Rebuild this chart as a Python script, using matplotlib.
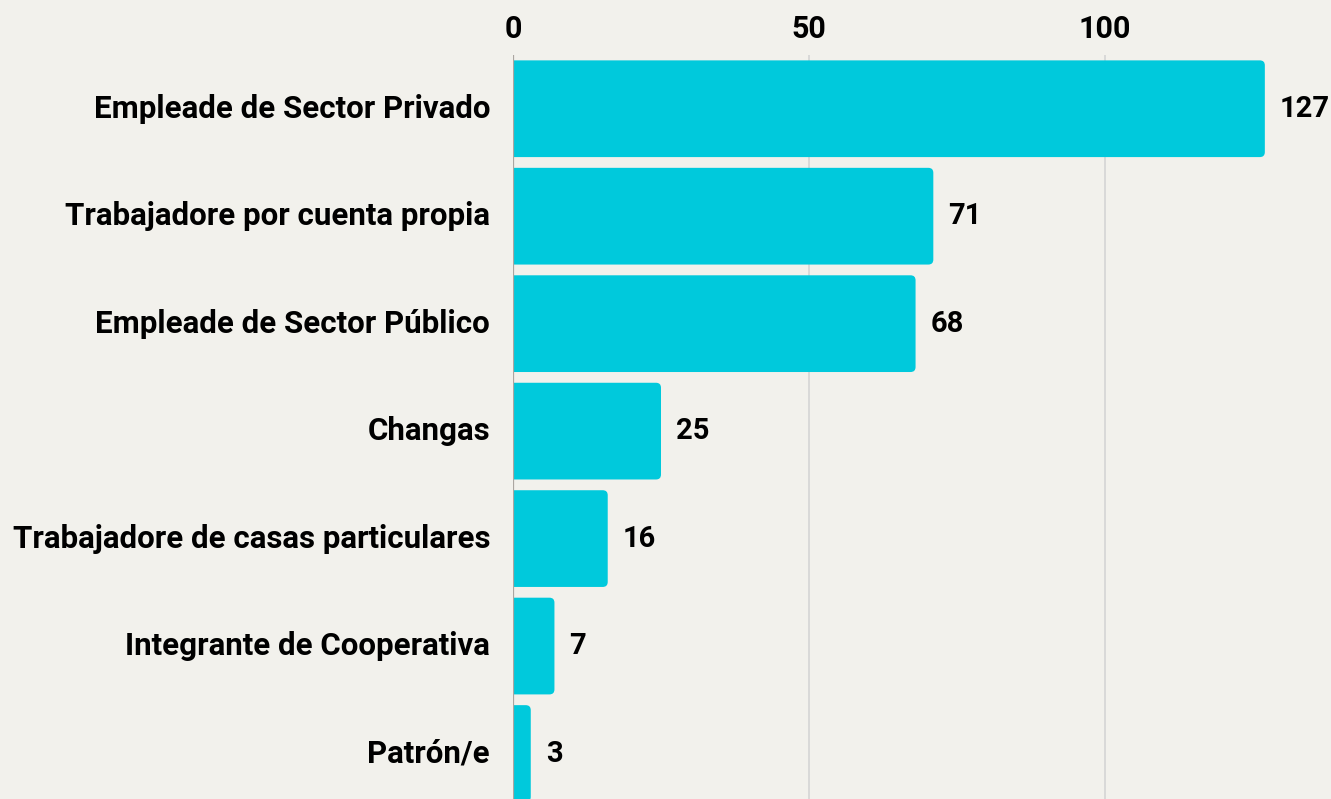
import matplotlib.pyplot as plt
from matplotlib.patches import FancyBboxPatch

categorias = ['Empleade de Sector Privado', 'Trabajadore por cuenta propia',
              'Empleade de Sector Público', 'Changas',
              'Trabajadore de casas particulares', 'Integrante de Cooperativa',
              'Patrón/e']
valores = [127, 71, 68, 25, 16, 7, 3]
ticks = [0, 50, 100]

fondo = '#F2F1EC'
cian = '#00C9DC'

W, H = 1331, 799
fig = plt.figure(figsize=(W / 100, H / 100), dpi=100, facecolor=fondo)
# eje en pixeles: 0 en x=513, borde superior en y=55
ax = fig.add_axes([513 / W, 0, (W - 513) / W, (H - 55) / H])
ax.set_facecolor(fondo)

px_x = 5.92     # pixeles por unidad
px_y = 107.5    # pixeles por barra
ax.set_xlim(0, (W - 513) / px_x)
ax.set_ylim((H - 108.5) / px_y, -0.5)

for x in ticks[1:]:
    ax.axvline(x, color='#D2D2D2', lw=1.1, zorder=0)

alto = 0.9
r = 5  # radio en px
for i, v in enumerate(valores):
    p = FancyBboxPatch((-3, i - alto / 2), v + 3, alto,
                       boxstyle=f'round,pad=0,rounding_size={r / px_x}',
                       mutation_aspect=(px_x / px_y),
                       fc=cian, ec='none', zorder=2)
    ax.add_patch(p)
    ax.text(v + 15 / px_x, i, str(v), ha='left', va='center',
            fontsize=21, fontweight='bold', family='Roboto', color='black')

ax.axvline(0, color='#ABA6A1', lw=1.6, zorder=3)

ax.set_yticks(range(len(categorias)))
ax.set_yticklabels(categorias, fontsize=22.5, fontweight='bold', family='Roboto',
                   color='black', va='center')
ax.set_xticks(ticks)
ax.set_xticklabels([str(t) for t in ticks], fontsize=22, fontweight='bold',
                   family='Roboto', color='black')
ax.xaxis.tick_top()
ax.tick_params(axis='both', length=0)
ax.tick_params(axis='y', pad=16.5)
ax.tick_params(axis='x', pad=8)
for s in ax.spines.values():
    s.set_visible(False)

fig.savefig('out.png', dpi=100, facecolor=fondo)
